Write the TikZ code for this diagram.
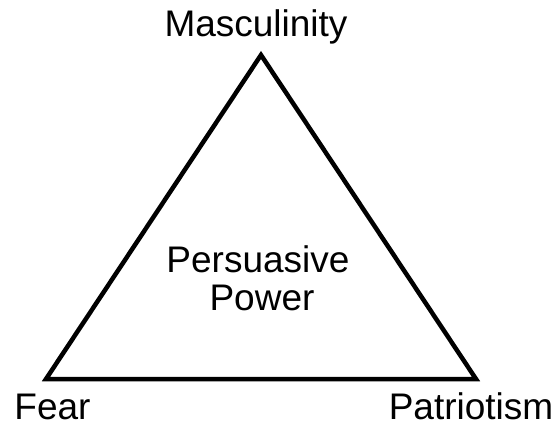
\documentclass[tikz,border=0pt]{standalone}
\usepackage{fontspec}
\setmainfont{Liberation Sans}
\begin{document}
\begin{tikzpicture}[x=1pt,y=-1pt,
  lbl/.style={font=\fontsize{37}{40}\selectfont, anchor=base, inner sep=0pt},
  tri/.style={draw=black, line width=4.5pt, line join=miter}]
\useasboundingbox (0,0) rectangle (553,425);
\fill[white] (0,0) rectangle (553,425);
\coordinate (top) at (261,55);
\coordinate (bl) at (46,379);
\coordinate (br) at (476,379);
\draw[tri] (top) -- (bl) -- (br) -- cycle;
\node[lbl] (masc) at (256,37) {Masculinity};
\node[lbl] (fear) at (52.5,419) {Fear};
\node[lbl] (pat) at (471,419) {Patriotism};
\node[lbl] (pers) at (258,272) {Persuasive};
\node[lbl] (pow) at (262,310) {Power};
\end{tikzpicture}
\end{document}
